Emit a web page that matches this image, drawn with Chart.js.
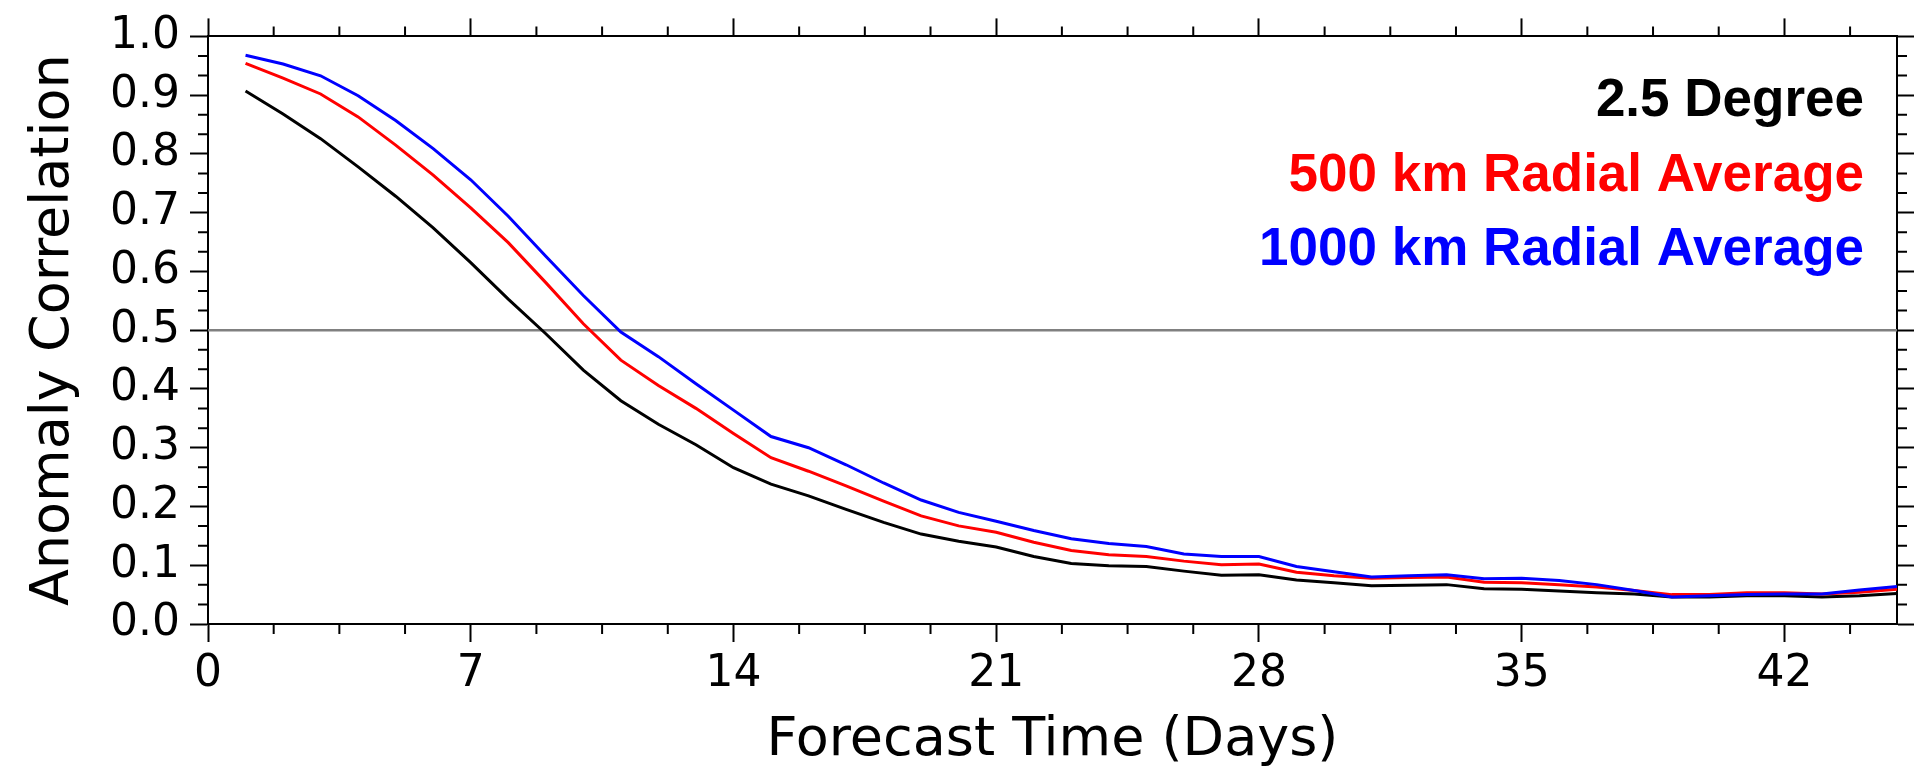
<!DOCTYPE html>
<html>
<head>
<meta charset="utf-8">
<title>Anomaly Correlation</title>
<script src="https://cdn.jsdelivr.net/npm/chart.js@4/dist/chart.umd.min.js"></script>
<style>
    body { margin: 0; background: #ffffff; }
    #grafico { display: block; }
</style>
</head>
<body>
<canvas id="grafico" width="1914" height="773"></canvas>
<script>
// dias de previsao
var dias = [1, 2, 3, 4, 5, 6, 7, 8, 9, 10, 11, 12, 13, 14, 15, 16, 17, 18, 19, 20,
    21, 22, 23, 24, 25, 26, 27, 28, 29, 30, 31, 32, 33, 34, 35, 36, 37, 38, 39, 40,
    41, 42, 43, 44, 45];

var grau25 = [0.907, 0.868, 0.826, 0.778, 0.728, 0.674, 0.615, 0.553, 0.494, 0.432,
    0.380, 0.340, 0.305, 0.266, 0.238, 0.218, 0.195, 0.173, 0.153, 0.141,
    0.131, 0.115, 0.103, 0.099, 0.098, 0.090, 0.083, 0.084, 0.075, 0.070,
    0.065, 0.066, 0.067, 0.060, 0.059, 0.056, 0.053, 0.051, 0.046, 0.046,
    0.048, 0.048, 0.046, 0.048, 0.052];

var media500 = [0.954, 0.929, 0.902, 0.863, 0.815, 0.764, 0.708, 0.649, 0.581, 0.511,
    0.449, 0.406, 0.367, 0.324, 0.283, 0.260, 0.235, 0.209, 0.184, 0.167,
    0.156, 0.139, 0.125, 0.118, 0.115, 0.107, 0.101, 0.102, 0.088, 0.082,
    0.078, 0.079, 0.080, 0.071, 0.070, 0.067, 0.063, 0.057, 0.050, 0.050,
    0.053, 0.053, 0.051, 0.054, 0.059];

var media1000 = [0.968, 0.953, 0.933, 0.899, 0.857, 0.809, 0.756, 0.694, 0.626, 0.559,
    0.497, 0.455, 0.409, 0.364, 0.319, 0.300, 0.271, 0.240, 0.211, 0.190,
    0.175, 0.159, 0.145, 0.137, 0.132, 0.119, 0.115, 0.115, 0.098, 0.089,
    0.080, 0.082, 0.084, 0.077, 0.078, 0.074, 0.067, 0.057, 0.046, 0.048,
    0.050, 0.051, 0.051, 0.058, 0.064];

var nomes = ['2.5 Degree', '500 km Radial Average', '1000 km Radial Average'];
var cores = ['#000000', '#ff0000', '#0000ff'];

var referencia = 0.5;

var xTicks = [0, 7, 14, 21, 28, 35, 42];
var yTicks = [0.0, 0.1, 0.2, 0.3, 0.4, 0.5, 0.6, 0.7, 0.8, 0.9, 1.0];
var yLabels = ['0.0', '0.1', '0.2', '0.3', '0.4', '0.5', '0.6', '0.7', '0.8', '0.9', '1.0'];
var xMin = 0, xMax = 45;
var yMin = 0, yMax = 1;
var xMinorStep = 1.75;
var yMinorStep = 0.1 / 3;

function pontos(valores) {
    var lista = [];
    for (let i = 0; i < dias.length; i++) {
        lista.push({ x: dias[i], y: valores[i] });
    }
    return lista;
}

function fixarTicks(valores) {
    return function (scale) {
        scale.ticks = valores.map(function (v) { return { value: v }; });
    };
}

// ticks menores (a lib nao tem)
const ticksMenores = {
    id: 'ticksMenores',
    afterDraw(chart) {
        const ctx = chart.ctx;
        const area = chart.chartArea;
        const sx = chart.scales.x;
        const sy = chart.scales.y;
        ctx.save();
        ctx.strokeStyle = '#000000';
        ctx.lineWidth = 2;
        ctx.beginPath();
        for (let k = 1; k * xMinorStep < xMax; k++) {
            var v = k * xMinorStep;
            if (k % 4 == 0) continue;
            var px = sx.getPixelForValue(v);
            ctx.moveTo(px, area.bottom);
            ctx.lineTo(px, area.bottom + 10);
            ctx.moveTo(px, area.top);
            ctx.lineTo(px, area.top - 10);
        }
        for (let k = 1; k * yMinorStep < yMax - 0.001; k++) {
            if (k % 3 == 0) continue;
            var py = sy.getPixelForValue(k * yMinorStep);
            ctx.moveTo(area.left, py);
            ctx.lineTo(area.left - 10, py);
            ctx.moveTo(area.right, py);
            ctx.lineTo(area.right + 10, py);
        }
        ctx.stroke();
        ctx.restore();
    }
};

// legenda em texto no canto
const legendaTexto = {
    id: 'legendaTexto',
    afterDatasetsDraw(chart) {
        const ctx = chart.ctx;
        const area = chart.chartArea;
        ctx.save();
        ctx.font = 'bold 53px "Liberation Sans", Arial, sans-serif';
        ctx.textAlign = 'right';
        ctx.textBaseline = 'alphabetic';
        for (let i = 0; i < nomes.length; i++) {
            ctx.fillStyle = cores[i];
            ctx.fillText(nomes[i], area.right - 33, area.top + 80 + i * 74.5);
        }
        ctx.restore();
    }
};

const fonteTick = { family: 'DejaVu Sans', size: 44 };
const fonteTitulo = { family: 'DejaVu Sans', size: 54 };

const gradeEixo = {
    drawOnChartArea: false,
    drawTicks: true,
    tickLength: 18,
    tickWidth: 2,
    tickColor: '#000000'
};
const bordaEixo = { display: true, color: '#000000', width: 2 };

const config = {
    type: 'line',
    data: {
        datasets: [{
            label: nomes[2],
            data: pontos(media1000),
            borderColor: cores[2],
            borderWidth: 3,
            pointRadius: 0,
            tension: 0,
            order: 0
        }, {
            label: nomes[1],
            data: pontos(media500),
            borderColor: cores[1],
            borderWidth: 3,
            pointRadius: 0,
            tension: 0,
            order: 1
        }, {
            label: nomes[0],
            data: pontos(grau25),
            borderColor: cores[0],
            borderWidth: 3,
            pointRadius: 0,
            tension: 0,
            order: 2
        }, {
            label: 'ref',
            data: [{ x: xMin, y: referencia }, { x: xMax, y: referencia }],
            borderColor: '#808080',
            borderWidth: 2.5,
            pointRadius: 0,
            order: 3
        }]
    },
    options: {
        responsive: false,
        animation: false,
        devicePixelRatio: 1,
        layout: { padding: 0 },
        plugins: {
            legend: { display: false },
            tooltip: { enabled: false }
        },
        scales: {
            x: {
                type: 'linear',
                position: 'bottom',
                min: xMin,
                max: xMax,
                afterBuildTicks: fixarTicks(xTicks),
                afterFit: function (s) { s.height = 149; },
                grid: gradeEixo,
                border: bordaEixo,
                ticks: {
                    font: fonteTick,
                    color: '#000000',
                    padding: 6,
                    maxRotation: 0,
                    autoSkip: false,
                    callback: function (v) { return String(v); }
                },
                title: {
                    display: true,
                    text: 'Forecast Time (Days)',
                    font: fonteTitulo,
                    color: '#000000',
                    padding: 0
                }
            },
            x2: {
                type: 'linear',
                position: 'top',
                min: xMin,
                max: xMax,
                afterBuildTicks: fixarTicks(xTicks),
                afterFit: function (s) { s.height = 32; },
                grid: gradeEixo,
                border: bordaEixo,
                ticks: { display: false }
            },
            y: {
                type: 'linear',
                position: 'left',
                min: yMin,
                max: yMax,
                afterBuildTicks: fixarTicks(yTicks),
                afterFit: function (s) { s.width = 208; },
                grid: gradeEixo,
                border: bordaEixo,
                ticks: {
                    font: fonteTick,
                    color: '#000000',
                    padding: 10,
                    autoSkip: false,
                    callback: function (v, i) { return yLabels[i]; }
                },
                title: {
                    display: true,
                    text: 'Anomaly Correlation',
                    font: fonteTitulo,
                    color: '#000000',
                    padding: { top: 22, bottom: 0 }
                }
            },
            y2: {
                type: 'linear',
                position: 'right',
                min: yMin,
                max: yMax,
                afterBuildTicks: fixarTicks(yTicks),
                afterFit: function (s) { s.width = 17; },
                grid: gradeEixo,
                border: bordaEixo,
                ticks: { display: false }
            }
        }
    },
    plugins: [ticksMenores, legendaTexto]
};

const grafico = new Chart(document.getElementById('grafico'), config);
</script>
</body>
</html>
